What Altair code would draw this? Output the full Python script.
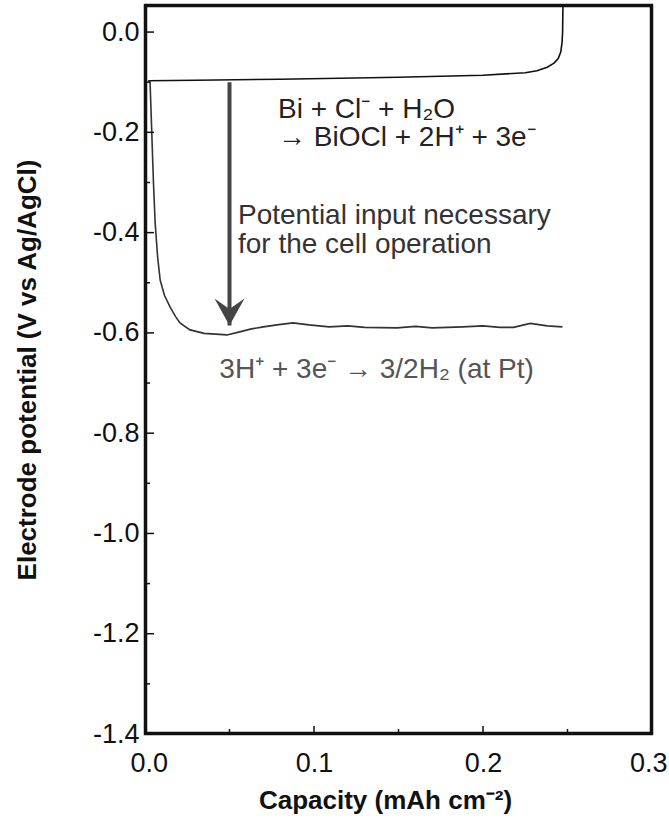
import altair as alt
import pandas as pd

# Bi electrode oxidation curve (upper trace)
ox_capacity = [0.002, 0.03, 0.08, 0.15, 0.20, 0.225, 0.232, 0.238, 0.242,
               0.2445, 0.246, 0.2468, 0.2471, 0.2473]
ox_potential = [-0.097, -0.096, -0.094, -0.090, -0.086, -0.081, -0.077, -0.070,
                -0.062, -0.053, -0.040, -0.020, 0.000, 0.054]

# Cell discharge curve with Pt counter electrode (lower trace)
red_capacity = [0.002, 0.003, 0.004, 0.005, 0.006, 0.0075, 0.009, 0.0115, 0.0148,
                0.018, 0.0207, 0.0266, 0.035, 0.0485, 0.056, 0.063, 0.070, 0.078,
                0.0876, 0.097, 0.109, 0.12, 0.13, 0.149, 0.16, 0.17, 0.188, 0.20,
                0.21, 0.218, 0.228, 0.238, 0.247]
red_potential = [-0.097, -0.10, -0.20, -0.30, -0.38, -0.45, -0.495, -0.525, -0.548,
                 -0.567, -0.580, -0.594, -0.601, -0.604, -0.598, -0.592, -0.588, -0.584,
                 -0.580, -0.584, -0.588, -0.586, -0.589, -0.590, -0.587, -0.590, -0.588,
                 -0.586, -0.589, -0.589, -0.581, -0.586, -0.588]

# Arrow marking the potential input
arrow_capacity = 0.05
arrow_start = -0.10
arrow_tip = -0.585

# Axis ticks
x_major = [0.0, 0.1, 0.2, 0.3]
x_minor = [0.05, 0.15, 0.25]
y_major = [0.0, -0.2, -0.4, -0.6, -0.8, -1.0, -1.2, -1.4]
y_minor = [-0.1, -0.3, -0.5, -0.7, -0.9, -1.1, -1.3]

# Annotations
notes = [
    "Bi + Cl\u207b + H\u2082O",
    "\u2192 BiOCl + 2H\u207a + 3e\u207b",
    "Potential input necessary",
    "for the cell operation",
    "3H\u207a + 3e\u207b \u2192 3/2H\u2082 (at Pt)",
]
note_x = [0.0787, 0.0787, 0.055, 0.055, 0.044]
note_y = [-0.155, -0.211, -0.367, -0.425, -0.674]
note_color = ["#222222", "#222222", "#333333", "#333333", "#555555"]

W, H = 507, 729
X_DOMAIN = [0.0, 0.3]
Y_DOMAIN = [-1.4, 0.054]
FONT = "Liberation Sans"

xs = alt.Scale(domain=X_DOMAIN, nice=False, zero=False)
ys = alt.Scale(domain=Y_DOMAIN, nice=False, zero=False)

ox = pd.DataFrame({"i": range(len(ox_capacity)), "cap": ox_capacity, "pot": ox_potential})
red = pd.DataFrame({"i": range(len(red_capacity)), "cap": red_capacity, "pot": red_potential})

x_axis = alt.Axis(
    values=x_major, format=".1f", ticks=False, grid=False, domain=False,
    labelFlush=True, labelFlushOffset=15, labelOverlap=False,
    labelFont=FONT, labelFontSize=27, labelColor="#111", labelPadding=16,
    title="Capacity (mAh cm\u207b\u00b2)", titleFont=FONT, titleFontSize=26,
    titleFontWeight="bold", titleColor="#111", titleX=240, titleY=66,
    titleBaseline="middle", titleAnchor="middle",
)
y_axis = alt.Axis(
    values=y_major, ticks=False, grid=False, domain=False,
    labelFlush=False, labelOverlap=False,
    labelExpr="replace(format(datum.value, '.1f'), '\u2212', '-')",
    labelFont=FONT, labelFontSize=27, labelColor="#111", labelPadding=6,
    title="Electrode potential (V vs Ag/AgCl)", titleFont=FONT, titleFontSize=26,
    titleFontWeight="bold", titleColor="#111", titleX=-118, titleY=H / 2,
    titleBaseline="middle", titleAnchor="middle", titleAngle=270,
)

# Plot frame drawn as a stroked rectangle over the whole plotting area
frame_df = pd.DataFrame({"x0": [X_DOMAIN[0]], "x1": [X_DOMAIN[1]],
                         "y0": [Y_DOMAIN[0]], "y1": [Y_DOMAIN[1]]})
frame = alt.Chart(frame_df).mark_rect(
    fill="white", fillOpacity=0, stroke="#111", strokeWidth=2.5, strokeOpacity=1,
).encode(
    x=alt.X("x0:Q", scale=xs, axis=x_axis), x2="x1:Q",
    y=alt.Y("y0:Q", scale=ys, axis=y_axis), y2="y1:Q",
)
left_edge = alt.Chart(frame_df).mark_rule(color="#111", strokeWidth=2.5).encode(
    x=alt.value(1), y=alt.value(0), y2=alt.value(H))
bottom_edge = alt.Chart(frame_df).mark_rule(color="#111", strokeWidth=2.5).encode(
    x=alt.value(0), x2=alt.value(W), y=alt.value(H - 1))
right_edge = alt.Chart(frame_df).mark_rule(color="#111", strokeWidth=2.5).encode(
    x=alt.value(W - 1), y=alt.value(0), y2=alt.value(H))
top_edge = alt.Chart(frame_df).mark_rule(color="#111", strokeWidth=2.5).encode(
    x=alt.value(0), x2=alt.value(W), y=alt.value(1))

ox_line = alt.Chart(ox).mark_line(color="#111", strokeWidth=1.6).encode(
    x=alt.X("cap:Q", scale=xs), y=alt.Y("pot:Q", scale=ys), order="i:Q",
)
red_line = alt.Chart(red).mark_line(color="#333", strokeWidth=1.6).encode(
    x=alt.X("cap:Q", scale=xs), y=alt.Y("pot:Q", scale=ys), order="i:Q",
)

arrow_df = pd.DataFrame({"cap": [arrow_capacity], "y0": [arrow_start], "y1": [arrow_tip]})
shaft = alt.Chart(arrow_df).mark_rule(color="#444", strokeWidth=4).encode(
    x=alt.X("cap:Q", scale=xs), y=alt.Y("y0:Q", scale=ys), y2=alt.Y2("y1:Q"),
)
head = alt.Chart(arrow_df).mark_point(
    shape="M-1,-1.8 L0,0 L1,-1.8 L0,-1.1 Z", filled=True, color="#444",
    opacity=1, size=900,
).encode(x=alt.X("cap:Q", scale=xs), y=alt.Y("y1:Q", scale=ys))

text_df = pd.DataFrame({"t": notes, "x": note_x, "y": note_y, "c": note_color})
texts = alt.Chart(text_df).mark_text(
    font=FONT, fontSize=28, align="left", baseline="middle",
).encode(
    x=alt.X("x:Q", scale=xs), y=alt.Y("y:Q", scale=ys),
    text="t:N", color=alt.Color("c:N", scale=None),
)

# Inward tick marks drawn along the left and bottom edges
ymaj = alt.Chart(pd.DataFrame({"v": y_major})).mark_rule(color="#111", strokeWidth=1.5).encode(
    y=alt.Y("v:Q", scale=ys), x=alt.value(0), x2=alt.value(9))
ymin = alt.Chart(pd.DataFrame({"v": y_minor})).mark_rule(color="#111", strokeWidth=1.5).encode(
    y=alt.Y("v:Q", scale=ys), x=alt.value(0), x2=alt.value(5))
xmaj = alt.Chart(pd.DataFrame({"v": x_major})).mark_rule(color="#111", strokeWidth=1.5).encode(
    x=alt.X("v:Q", scale=xs), y=alt.value(H), y2=alt.value(H - 8))
xmin = alt.Chart(pd.DataFrame({"v": x_minor})).mark_rule(color="#111", strokeWidth=1.5).encode(
    x=alt.X("v:Q", scale=xs), y=alt.value(H), y2=alt.value(H - 5))

chart = alt.layer(
    frame, left_edge, bottom_edge, right_edge, top_edge,
    ox_line, red_line, shaft, head, texts, ymaj, ymin, xmaj, xmin
).properties(
    width=W, height=H,
    autosize=alt.AutoSizeParams(type="none"),
    padding={"left": 145, "top": 5, "right": 17, "bottom": 91},
    background="white",
).configure_view(
    strokeWidth=0
)

chart.save("out.html", embed_options={"renderer": "svg", "actions": False})
